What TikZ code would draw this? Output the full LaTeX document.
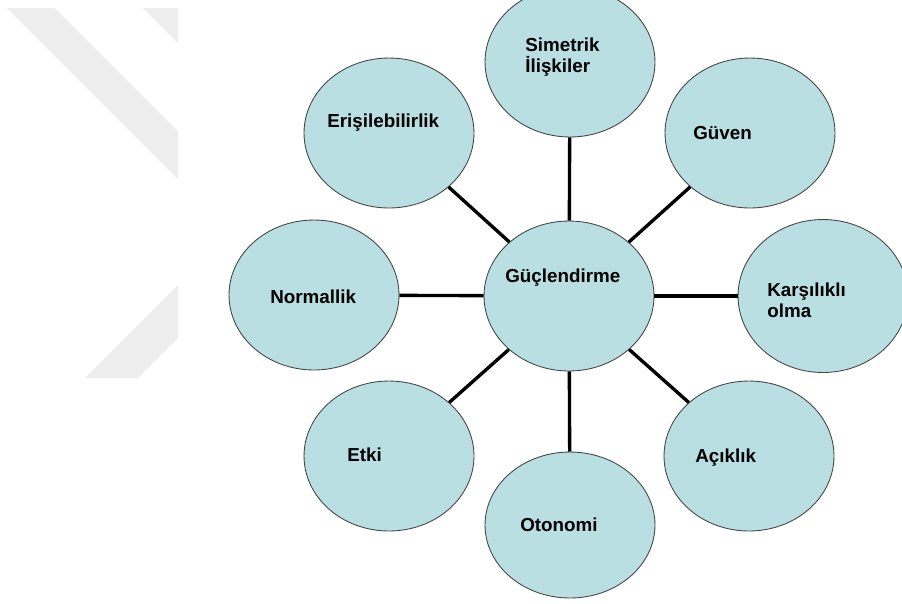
\documentclass[tikz,border=0pt]{standalone}
\usepackage{fontspec}
\setmainfont{Liberation Sans}
\usetikzlibrary{shapes.geometric}
\definecolor{cyanfill}{RGB}{185,223,227}
\definecolor{rimgray}{RGB}{70,70,70}
\definecolor{wmgray}{RGB}{238,238,238}
\begin{document}
\begin{tikzpicture}[x=0.02cm,y=-0.02cm,
    bubble/.style={ellipse,draw=rimgray,line width=0.5pt,fill=cyanfill,
      minimum width=3.4cm,minimum height=3cm,inner sep=0pt},
    lbl/.style={anchor=base west,inner sep=0pt,align=left,
      font=\fontsize{10.7}{11.4}\selectfont\bfseries},
    link/.style={line width=1.9pt,black}]
  \useasboundingbox (0,0) rectangle (902,603);
  % faint watermark on the left
  \fill[wmgray] (7,8) -- (55,8) -- (178,131) -- (178,179) -- cycle;
  \fill[wmgray] (143,8) -- (178,8) -- (178,43) -- cycle;
  \fill[wmgray] (85,378) -- (138,378) -- (178,338) -- (178,285) -- cycle;
  % bubbles
  \node[bubble] (guc) at (569,296) {};
  \node[bubble] (sim) at (570,62) {};
  \node[bubble] (guv) at (750,133) {};
  \node[bubble,minimum height=3.06cm] (kar) at (823,296) {};
  \node[bubble] (aci) at (749,456) {};
  \node[bubble,minimum height=2.92cm] (oto) at (570,525) {};
  \node[bubble] (etk) at (389,456) {};
  \node[bubble] (nor) at (314,295) {};
  \node[bubble] (eri) at (389,133) {};
  % spokes
  \foreach \n in {sim,guv,kar,aci,oto,etk,nor,eri}
    \draw[link] (guc) -- (\n);
  % texts
  \node[lbl] (t-guc) at (505,282) {Güçlendirme};
  \node[lbl,anchor=north west] (t-sim) at (525,38) {Simetrik\\İlişkiler};
  \node[lbl] (t-guv) at (693,139) {Güven};
  \node[lbl,anchor=north west] (t-kar) at (767,283) {Karşılıklı\\olma};
  \node[lbl] (t-aci) at (695,462) {Açıklık};
  \node[lbl] (t-oto) at (520,531) {Otonomi};
  \node[lbl] (t-etk) at (347,461) {Etki};
  \node[lbl] (t-nor) at (270,303) {Normallik};
  \node[lbl] (t-eri) at (327,127) {Erişilebilirlik};
\end{tikzpicture}
\end{document}
